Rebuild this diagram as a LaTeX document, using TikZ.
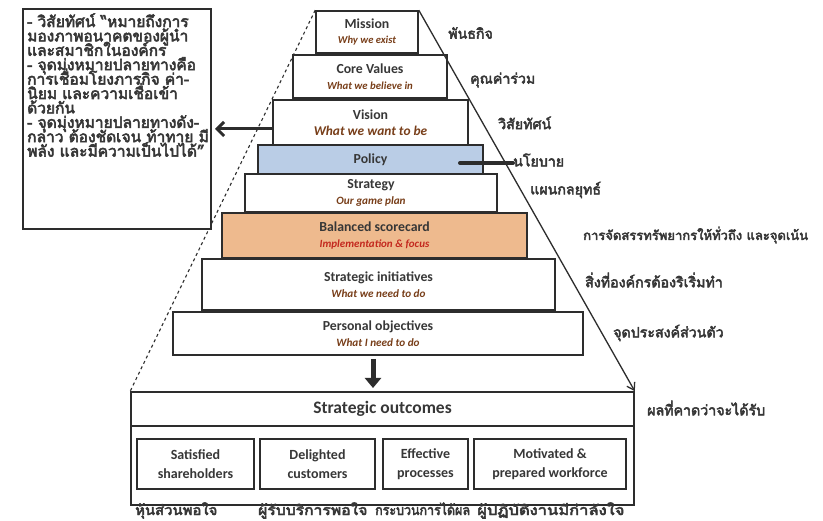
\documentclass[tikz,border=0pt]{standalone}
\usepackage{fontspec}
\setmainfont{Carlito}
\newfontfamily\thaifont[Script=Thai,FakeBold=3.5]{Loma}
\usetikzlibrary{arrows.meta}

\definecolor{edgegray}{RGB}{45,45,45}
\definecolor{textgray}{RGB}{55,55,55}
\definecolor{subbrown}{RGB}{120,62,25}
\definecolor{subred}{RGB}{195,40,30}
\definecolor{policyblue}{RGB}{186,205,230}
\definecolor{bscorange}{RGB}{238,186,142}

\newcommand{\layersub}[2][11.5]{{\itshape\color{subbrown}\fontsize{#1}{13}\selectfont #2}}
\newcommand{\thaistretch}[2]{\scalebox{#1}[1]{#2}}

\tikzset{
  layer/.style={draw=edgegray, line width=1.6pt, fill=white, align=center, inner sep=0pt,
    text=textgray, font=\bfseries\fontsize{13.8}{15.5}\selectfont},
  thailabel/.style={anchor=west, inner sep=0pt, text=textgray, font=\thaifont\fontsize{14.2}{16}\selectfont},
  bottomlabel/.style={thailabel, anchor=base west, font=\thaifont\fontsize{14}{16}\selectfont},
  noteline/.style={anchor=base west, inner sep=0pt, text=textgray, font=\thaifont\fontsize{15.5}{16}\selectfont},
  goalbox/.style={draw=edgegray, line width=1.2pt, fill=white, align=center, inner sep=0pt,
    minimum height=50, text=textgray, font=\bfseries\fontsize{14}{19}\selectfont},
  fatarrow/.style={draw=edgegray, line width=3pt},
}

\begin{document}
\begin{tikzpicture}[x=1pt,y=-1pt]
  \fill[white] (0,0) rectangle (823,521);
  \useasboundingbox (0,0) rectangle (823,521);

  % pyramid
  \node[layer, minimum width=102, minimum height=42] (mission) at (367,32) {Mission\\\layersub[10.6]{Why we exist}};
  \node[layer, minimum width=154, minimum height=43] (corevalues) at (370,76.5) {Core Values\\\layersub[10.8]{What we believe in}};
  \node[layer, minimum width=195, minimum height=45] (vision) at (370.5,122.5) {Vision\\\layersub[13.4]{What we want to be}};
  \node[layer, fill=policyblue, minimum width=225, minimum height=29] (policy) at (370.5,159.5) {Policy};
  \node[layer, minimum width=252, minimum height=38] (strategy) at (371,193) {Strategy\\\layersub[11.2]{Our game plan}};
  \node[layer, fill=bscorange, minimum width=305, minimum height=45] (bsc) at (374.5,235.5) {Balanced scorecard\\{\itshape\color{subred}\fontsize{11}{13}\selectfont Implementation \& focus}};
  \node[layer, minimum width=353, minimum height=51] (initiatives) at (378.5,284.5) {Strategic initiatives\\\layersub[11.2]{What we need to do}};
  \node[layer, minimum width=410, minimum height=43] (personal) at (378,333.5) {Personal objectives\\\layersub[11.2]{What I need to do}};

  % outcomes
  \node[layer, minimum width=503, minimum height=34, font=\bfseries\fontsize{17.5}{20}\selectfont] (outcomes) at (382.5,409) {Strategic outcomes};
  \node[layer, minimum width=503, minimum height=79] (outbase) at (382.5,465.5) {};
  \node[goalbox, minimum width=117] (satisfied) at (195.5,464) {Satisfied\\shareholders};
  \node[goalbox, minimum width=115] (delighted) at (317.5,464) {Delighted\\customers};
  \node[goalbox, minimum width=85] (effective) at (425.5,464) {Effective\\processes};
  \node[goalbox, minimum width=152] (motivated) at (550,464) {Motivated \&\\prepared workforce};

  % side lines
  \draw[edgegray, line width=1.1pt, dashed] (mission.north west) -- (outcomes.north west);
  \draw[edgegray, line width=1.3pt, -{Straight Barb[length=7pt,width=9pt]}] (mission.north east) -- (outcomes.north east);

  % vision note
  \node[draw=edgegray, line width=1.8pt, fill=white, minimum width=188, minimum height=220, anchor=north west] (visionbox) at (22,8) {};
  \foreach \notetext [count=\i] in {%
      - วิสัยทัศน์ “หมายถึงการ,
      มองภาพอนาคตของผู้นำ,
      และสมาชิกในองค์กร,
      - จุดมุ่งหมายปลายทางคือ,
      การเชื่อมโยงภารกิจ ค่า-,
      นิยม และความเชื่อเข้า,
      ด้วยกัน,
      - จุดมุ่งหมายปลายทางดัง-,
      กล่าว ต้องชัดเจน ท้าทาย มี,
      พลัง และมีความเป็นไปได้”}
    \node[noteline] (note\i) at (27,{27+14.4*(\i-1)}) {\notetext};
  \coordinate (visionfrom) at (273,129);
  \coordinate (visionto) at (215,129);
  \draw[fatarrow, -{Straight Barb[length=7pt,width=14pt]}] (visionfrom) -- (visionto);

  % thai labels
  \node[thailabel] (missionlbl) at (448,33) {พันธกิจ};
  \node[thailabel] (valueslbl) at (470,80) {คุณค่าร่วม};
  \node[thailabel] (visionlbl) at (498,123) {วิสัยทัศน์};
  \node[thailabel] (policylbl) at (513,160) {นโยบาย};
  \node[thailabel] (strategylbl) at (530,190) {แผนกลยุทธ์};
  \node[thailabel, font=\thaifont\fontsize{13}{16}\selectfont] (bsclbl) at (583,235) {การจัดสรรทรัพยากรให้ทั่วถึง และจุดเน้น};
  \node[thailabel] (initlbl) at (585,280) {สิ่งที่องค์กรต้องริเริ่มทำ};
  \node[thailabel] (personallbl) at (613,333) {จุดประสงค์ส่วนตัว};
  \node[thailabel] (outcomeslbl) at (647,408) {ผลที่คาดว่าจะได้รับ};
  \node[bottomlabel] (satisfiedlbl) at (135,515) {\thaistretch{1.06}{หุ้นส่วนพอใจ}};
  \node[bottomlabel] (delightedlbl) at (258,515) {\thaistretch{1.12}{ผู้รับบริการพอใจ}};
  \node[bottomlabel] (effectivelbl) at (375,515) {\thaistretch{0.89}{กระบวนการได้ผล}};
  \node[bottomlabel] (motivatedlbl) at (477,515) {\thaistretch{1.18}{ผู้ปฏิบัติงานมีกำลังใจ}};

  \coordinate (policytip) at (460,163);
  \draw[edgegray, line width=4pt, line cap=round] (policylbl.west |- policytip) -- (policytip);

  % down arrow
  \coordinate (downfrom) at (373,359);
  \coordinate (downto) at (373,388);
  \draw[fatarrow, line width=5pt, -{Triangle[length=10pt,width=16pt]}] (downfrom) -- (downto);
\end{tikzpicture}
\end{document}
